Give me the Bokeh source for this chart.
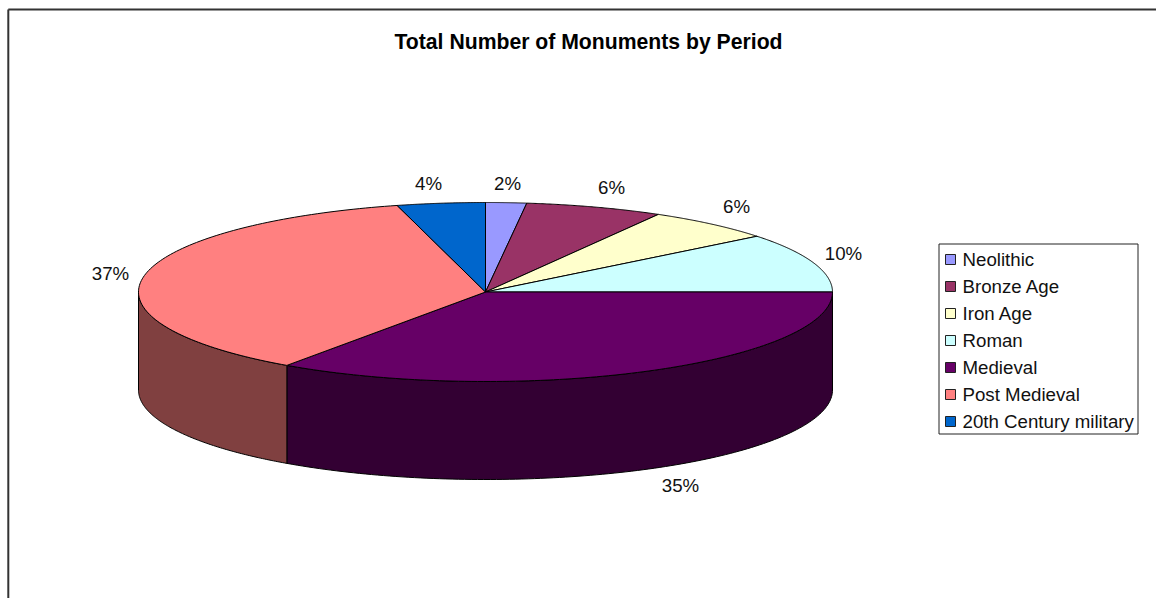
import numpy as np
from bokeh.plotting import figure
from bokeh.models import Range1d
from bokeh.core.properties import value
from bokeh.embed import file_html
from bokeh.resources import INLINE

title_text = "Total Number of Monuments by Period"
periods = ["Neolithic", "Bronze Age", "Iron Age", "Roman", "Medieval", "Post Medieval", "20th Century military"]
shares = [1.9, 6.4, 6.0, 10.7, 34.7, 36.2, 4.1]
share_labels = ["2%", "6%", "6%", "10%", "35%", "37%", "4%"]
top_colors = ["#9999FF", "#993366", "#FFFFCC", "#CCFFFF", "#660066", "#FF8080", "#0066CC"]
side_colors = ["#4C4C80", "#4C1933", "#808066", "#668080", "#330033", "#804040", "#003366"]

FONT = value("Liberation Sans")
W, H = 1156, 598
CX, CY, RX, RY, DEPTH = 485.0, 291.5, 347.0, 89.5, 98.0

p = figure(width=W, height=H, output_backend="svg", toolbar_location=None,
           x_range=Range1d(0, W), y_range=Range1d(H, 0),
           min_border=0, outline_line_color=None, background_fill_color="white")
p.axis.visible = False
p.grid.visible = False

def rim(a, b, n=120):
    t = np.radians(np.linspace(a, b, n))
    return CX + RX * np.sin(t), CY - RY * np.cos(t)

# chart-area frame (left and top edges only are in view)
p.line([7.8, 7.8], [H, 9], line_color="#333333", line_width=2)
p.line([7.8, W], [9, 9], line_color="#333333", line_width=2)

edges = np.concatenate([[0], np.cumsum(shares)]) / sum(shares) * 360

# side walls of the visible front half
for i in range(len(shares)):
    a, b = max(edges[i], 90), min(edges[i + 1], 270)
    if b <= a:
        continue
    x, y = rim(a, b)
    p.patch(np.concatenate([x, x[::-1]]), np.concatenate([y, y[::-1] + DEPTH]),
            fill_color=side_colors[i], line_color="black", line_width=1)

# top faces
for i in range(len(shares)):
    x, y = rim(edges[i], edges[i + 1])
    p.patch(np.concatenate([[CX], x]), np.concatenate([[CY], y]),
            fill_color=top_colors[i], line_color="black", line_width=1)

# slice labels
lx = [507, 611, 736, 843, 680, 110, 428]
ly = [183, 187, 206, 253, 485, 273, 183]
p.text(lx, ly, text=share_labels, text_font=FONT, text_font_size="18.7px",
       text_align="center", text_baseline="middle", text_color="#111111")

# title
p.text([588], [41], text=[title_text], text_font=FONT, text_font_size="21.2px", text_font_style="bold",
       text_align="center", text_baseline="middle", text_color="black")

# legend
p.quad(left=[938.5], right=[1137.5], top=[243.5], bottom=[433.5],
       fill_color="white", line_color="#222222", line_width=1)
rows = 259 + 27 * np.arange(len(periods))
p.rect(x=[950] * len(periods), y=rows, width=10, height=10,
       fill_color=top_colors, line_color="#222222", line_width=1)
p.text([962] * len(periods), rows, text=periods, text_font=FONT, text_font_size="18.7px",
       text_align="left", text_baseline="middle", text_color="#111111")

open("out.html", "w").write(file_html(p, INLINE))
